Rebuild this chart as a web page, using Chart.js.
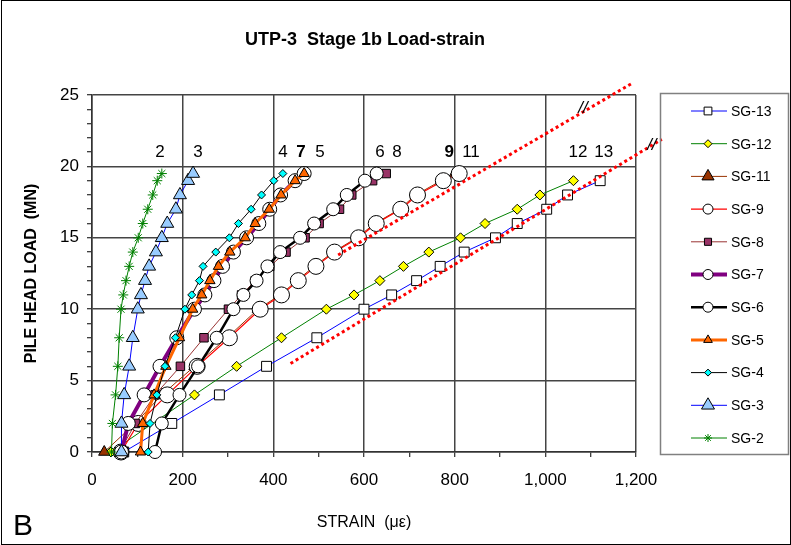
<!DOCTYPE html>
<html>
<head>
<meta charset="utf-8">
<title>UTP-3 Stage 1b Load-strain</title>
<script src="https://cdn.jsdelivr.net/npm/chart.js"></script>
<style>
  html, body { margin: 0; padding: 0; background: #fff; }
  #wrap { width: 791px; height: 545px; }
</style>
</head>
<body>
<div id="wrap"><canvas id="loadStrainChart" width="791" height="545"></canvas></div>
<script>
// Pile head load steps (MN)
const loads = [0, 2, 4, 6, 8, 10, 11, 12, 13, 14, 15, 16, 17, 18, 19, 19.5];
const loadsSG12 = [0, 4, 6, 8, 10, 11, 12, 13, 14, 15, 16, 17, 18, 19];
const loadsSG13 = [0, 2, 4, 6, 8, 10, 11, 12, 13, 14, 15, 16, 17, 18, 19];

// Strain readings per gauge (microstrain)
const sg13 = [70, 176, 281, 385, 496, 600, 661, 716, 768, 821, 890, 938, 1003, 1049, 1121];
const sg12 = [42, 226, 319, 418, 517, 578, 635, 687, 743, 813, 867, 938, 988, 1062];
const sg11 = [27, 95, 154, 226, 298, 366, 415, 452, 490, 532, 584, 624, 678, 714, 770, 800];
const sg9 = [64, 102, 166, 232, 303, 371, 418, 455, 494, 535, 588, 627, 681, 718, 775, 810];
const sg8 = [60, 96, 139, 195, 247, 301, 330, 360, 392, 428, 470, 501, 546, 573, 619, 649];
const sg7 = [65, 80, 115, 150, 187, 226, 249, 269, 288, 312, 341, 368, 392, 416, 448, 468];
const sg6 = [139, 154, 193, 234, 275, 312, 334, 363, 387, 415, 459, 490, 532, 562, 602, 628];
const sg5 = [107, 112, 137, 163, 193, 222, 242, 260, 279, 304, 338, 360, 391, 417, 448, 468];
const sg4 = [124, 128, 143, 161, 184, 205, 220, 237, 245, 273, 303, 323, 351, 374, 401, 421];
const sg3 = [65, 65, 71, 82, 90, 101, 108, 117, 126, 141, 154, 166, 185, 194, 212, 223];
const sg2 = [43, 45, 52, 57, 60, 64, 69, 75, 82, 90, 102, 112, 123, 134, 144, 154];

// Dotted guide lines (strain, load)
const guideLowX = [438, 1257];
const guideLowY = [6.2, 21.9];
const guideHighX = [543, 1193];
const guideHighY = [13.8, 25.85];

// Gauge number labels above the curves
const gaugeNames = ['2', '3', '4', '7', '5', '6', '8', '9', '11', '12', '13'];
const gaugeNameX = [150, 234, 421, 461, 503, 635, 673, 788, 836, 1072, 1129];
const gaugeNameBold = [false, false, false, true, false, false, false, true, false, false, false];
const gaugeNameY = 21;

// Axis break marks "//"
const breakX = [1083, 1235];
const breakY = [24.1, 21.5];

const FONT = "Arial, 'Liberation Sans', sans-serif";

function toPoints(xs, ys) {
    return xs.map((x, i) => ({ x: x, y: ys[i] }));
}

function gauge(label, xs, ys, style) {
    return {
        label: label,
        data: toPoints(xs, ys),
        showLine: true,
        borderColor: style.line,
        borderWidth: style.width,
        pointStyle: style.marker,
        pointRadius: style.radius,
        pointHoverRadius: style.radius,
        pointBackgroundColor: style.fill,
        pointBorderColor: style.edge || '#000',
        pointBorderWidth: 1,
        legendRadius: style.legendRadius || style.radius,
        clip: false,
        tension: 0
    };
}

function guide(xs, ys) {
    return {
        label: 'guide',
        isGuide: true,
        data: toPoints(xs, ys),
        showLine: true,
        borderColor: '#ff0000',
        borderWidth: 3,
        borderDash: [3, 3],
        pointRadius: 0,
        pointHoverRadius: 0,
        clip: false
    };
}

// first dataset is drawn on top in Chart.js, so SG-2 goes first
const datasets = [
    guide(guideLowX, guideLowY),
    guide(guideHighX, guideHighY),
    gauge('SG-2', sg2, loads, { line: '#008000', width: 1, marker: 'star', radius: 5, fill: '#008000', edge: '#008000', legendRadius: 4 }),
    gauge('SG-3', sg3, loads, { line: '#0000ff', width: 1, marker: 'triangle', radius: 7.5, fill: '#99ccff' }),
    gauge('SG-4', sg4, loads, { line: '#000000', width: 1, marker: 'rectRot', radius: 4, fill: '#00ffff', legendRadius: 3.5 }),
    gauge('SG-5', sg5, loads, { line: '#ff6600', width: 3, marker: 'triangle', radius: 6, fill: '#ff6600', legendRadius: 5 }),
    gauge('SG-6', sg6, loads, { line: '#000000', width: 2.5, marker: 'circle', radius: 6.5, fill: '#ffffff', legendRadius: 5 }),
    gauge('SG-7', sg7, loads, { line: '#800080', width: 4, marker: 'circle', radius: 7, fill: '#ffffff', legendRadius: 5 }),
    gauge('SG-8', sg8, loads, { line: '#993333', width: 1, marker: 'rect', radius: 6, fill: '#993366', legendRadius: 5 }),
    gauge('SG-9', sg9, loads, { line: '#ff0000', width: 1.2, marker: 'circle', radius: 8, fill: '#ffffff', legendRadius: 5 }),
    gauge('SG-11', sg11, loads, { line: '#993300', width: 1, marker: 'triangle', radius: 6.5, fill: '#993300', legendRadius: 7 }),
    gauge('SG-12', sg12, loadsSG12, { line: '#008000', width: 1, marker: 'rectRot', radius: 5, fill: '#ffff00', legendRadius: 4 }),
    gauge('SG-13', sg13, loadsSG13, { line: '#0000ff', width: 1, marker: 'rect', radius: 7, fill: '#ffffff', legendRadius: 5.5 })
];

// Text, legend box and frame drawn on top of the chart
const decorPlugin = {
    id: 'decor',
    afterDraw(chart) {
        const ctx = chart.ctx;
        const xs = chart.scales.x;
        const ys = chart.scales.y;
        ctx.save();

        // outer frame
        ctx.strokeStyle = '#000';
        ctx.lineWidth = 1;
        ctx.strokeRect(1.5, 0.5, 789, 544);

        // title
        ctx.fillStyle = '#000';
        ctx.font = 'bold 18px ' + FONT;
        ctx.textAlign = 'center';
        ctx.textBaseline = 'middle';
        ctx.fillText('UTP-3  Stage 1b Load-strain', 365, 40);

        // gauge numbers
        ctx.textBaseline = 'middle';
        gaugeNames.forEach((name, i) => {
            ctx.font = (gaugeNameBold[i] ? 'bold ' : '') + '17px ' + FONT;
            ctx.fillText(name, xs.getPixelForValue(gaugeNameX[i]), ys.getPixelForValue(gaugeNameY));
        });

        // break marks
        ctx.font = 'italic 17px ' + FONT;
        breakX.forEach((bx, i) => {
            ctx.fillText('//', xs.getPixelForValue(bx), ys.getPixelForValue(breakY[i]));
        });

        // panel letter
        ctx.font = '30px ' + FONT;
        ctx.textAlign = 'left';
        ctx.fillText('B', 13, 527);

        // legend
        ctx.strokeStyle = '#808080';
        ctx.lineWidth = 1.5;
        ctx.strokeRect(660.5, 93.5, 128, 361);
        const items = chart.data.datasets.filter(d => !d.isGuide).slice().reverse();
        items.forEach((ds, i) => {
            const y = 111 + i * 32.7;
            ctx.strokeStyle = ds.borderColor;
            ctx.lineWidth = ds.borderWidth;
            ctx.beginPath();
            ctx.moveTo(691, y);
            ctx.lineTo(727, y);
            ctx.stroke();
            ctx.fillStyle = ds.pointBackgroundColor;
            ctx.strokeStyle = ds.pointBorderColor;
            ctx.lineWidth = 1;
            Chart.helpers.drawPoint(ctx, {
                pointStyle: ds.pointStyle,
                radius: ds.legendRadius,
                borderWidth: 1,
                rotation: 0
            }, 708, y);
            ctx.fillStyle = '#000';
            ctx.font = '14px ' + FONT;
            ctx.textAlign = 'left';
            ctx.textBaseline = 'middle';
            ctx.fillText(ds.label, 731, y + 1);
        });
        ctx.restore();
    }
};

const ctx = document.getElementById('loadStrainChart').getContext('2d');
new Chart(ctx, {
    type: 'scatter',
    data: { datasets: datasets },
    options: {
        responsive: false,
        animation: false,
        events: [],
        layout: {
            padding: { top: 95, right: 155, left: 0, bottom: 0 }
        },
        plugins: {
            legend: { display: false },
            title: { display: false },
            tooltip: { enabled: false }
        },
        scales: {
            x: {
                type: 'linear',
                min: 0,
                max: 1200,
                afterFit: (scale) => { scale.height = 93; },
                ticks: {
                    stepSize: 100,
                    autoSkip: false,
                    maxRotation: 0,
                    padding: 13,
                    color: '#000',
                    font: { family: FONT, size: 17 },
                    callback: (v) => (v % 200 === 0 ? v.toLocaleString('en-US') : '')
                },
                grid: {
                    color: (c) => (c.tick && c.tick.value % 200 === 0 ? '#444' : 'rgba(0,0,0,0)'),
                    lineWidth: 1.5,
                    tickColor: '#000',
                    tickLength: 5,
                    tickWidth: 1
                },
                border: { display: true, color: '#333', width: 1.5 },
                title: {
                    display: true,
                    text: 'STRAIN  (\u03bc\u03b5)',
                    color: '#000',
                    font: { family: FONT, size: 16 },
                    padding: { top: 0, bottom: 13 }
                }
            },
            y: {
                type: 'linear',
                min: 0,
                max: 25,
                afterFit: (scale) => { scale.width = 92; },
                ticks: {
                    stepSize: 1,
                    autoSkip: false,
                    padding: 8,
                    color: '#000',
                    font: { family: FONT, size: 17 },
                    callback: (v) => (v % 5 === 0 ? v : '')
                },
                grid: {
                    color: (c) => (c.tick && c.tick.value % 5 === 0 ? '#444' : 'rgba(0,0,0,0)'),
                    lineWidth: 1.5,
                    tickColor: '#000',
                    tickLength: 5,
                    tickWidth: 1
                },
                border: { display: true, color: '#333', width: 1.5 },
                title: {
                    display: true,
                    text: 'PILE HEAD LOAD  (MN)',
                    color: '#000',
                    font: { family: FONT, size: 16, weight: 'bold' },
                    padding: { top: 22, bottom: 0 }
                }
            }
        }
    },
    plugins: [decorPlugin]
});
</script>
</body>
</html>
